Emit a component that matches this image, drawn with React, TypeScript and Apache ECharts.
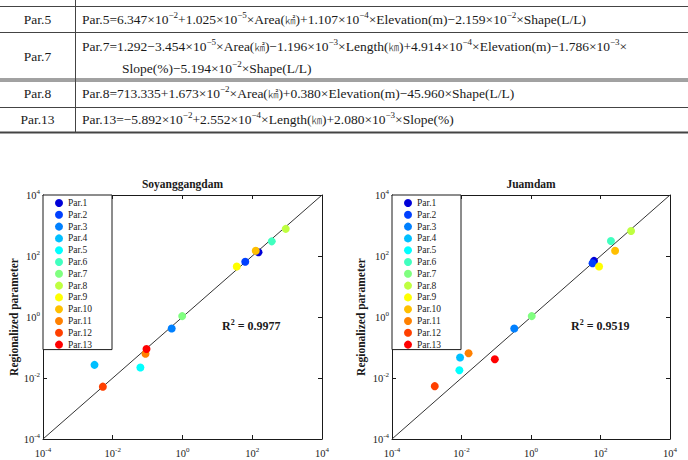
import { useEffect, useRef } from 'react';
import * as echarts from 'echarts';

// Parameter names and their jet-style colours
const params = ['Par.1', 'Par.2', 'Par.3', 'Par.4', 'Par.5', 'Par.6', 'Par.7', 'Par.8', 'Par.9', 'Par.10', 'Par.11', 'Par.12', 'Par.13'];
const parColors = ['#0000d8', '#0040ff', '#0080ff', '#00bfff', '#00ffff', '#40ffbf', '#80ff80', '#bfff40', '#ffff00', '#ffbf00', '#ff8000', '#ff4000', '#ff0000'];

// Soyanggang dam: calibrated (x) vs regionalized (y) parameter values
const soyangCalibrated = [151, 63, 0.49, 0.003, 0.062, 363, 0.98, 912, 36, 126, 0.087, 0.0052, 0.093];
const soyangRegional = [132, 65, 0.42, 0.027, 0.022, 302, 1.07, 776, 45, 148, 0.062, 0.0052, 0.089];

// Juam dam: calibrated (x) vs regionalized (y) parameter values
const juamCalibrated = [65, 59, 0.33, 0.0091, 0.0087, 200, 1.05, 759, 91, 263, 0.016, 0.0017, 0.091];
const juamRegional = [69, 58, 0.42, 0.047, 0.018, 309, 1.07, 661, 45, 148, 0.065, 0.0054, 0.041];

const damNames = ['Soyanggangdam', 'Juamdam'];
const rSquared = ['0.9977', '0.9519'];
const axisMin = 1e-4;
const axisMax = 1e4;

// Regression equations (^{..} marks a superscript)
const tableLabels = ['Par.5', 'Par.7', 'Par.8', 'Par.13'];
const tableFormulas: string[][] = [
  ['Par.5=6.347×10^{−2}+1.025×10^{−5}×Area(㎢)+1.107×10^{−4}×Elevation(m)−2.159×10^{−2}×Shape(L/L)'],
  [
    'Par.7=1.292−3.454×10^{−5}×Area(㎢)−1.196×10^{−3}×Length(㎞)+4.914×10^{−4}×Elevation(m)−1.786×10^{−3}×',
    'Slope(%)−5.194×10^{−2}×Shape(L/L)',
  ],
  ['Par.8=713.335+1.673×10^{−2}×Area(㎢)+0.380×Elevation(m)−45.960×Shape(L/L)'],
  ['Par.13=−5.892×10^{−2}+2.552×10^{−4}×Length(㎞)+2.080×10^{−3}×Slope(%)'],
];

const SERIF = '"Liberation Serif", "Times New Roman", serif';
const TABLE_FONT = '"Liberation Serif", "Noto Sans CJK KR", serif';
const CJK_FONT = '"Noto Sans CJK KR", sans-serif';
const INK = '#1a1a1a';

// superscripts and unit glyphs become rich-text tokens
const toRich = (s: string) =>
  s.replace(/\^\{([^}]*)\}/g, '{s|$1}').replace(/([㎢㎞])/g, '{k|$1}');

export default function App() {
  const ref = useRef<HTMLDivElement>(null);

  useEffect(() => {
    if (!ref.current) return;
    const chart = echarts.init(ref.current, undefined, { renderer: 'svg' });

    const grids = [
      { left: 43, top: 195, width: 279, height: 244 },
      { left: 392, top: 195, width: 278, height: 244 },
    ];

    const logAxisBase = {
      type: 'log' as const,
      logBase: 10,
      min: axisMin,
      max: axisMax,
      interval: 2,
      axisLine: { show: true, onZero: false, lineStyle: { color: INK, width: 1 } },
      axisTick: { show: true, inside: true, length: 4, lineStyle: { color: INK, width: 1 } },
      splitLine: { show: false },
      minorTick: { show: false },
    };

    const tickRich = {
      b: { fontSize: 10.5, fontFamily: SERIF, color: INK },
      s: { fontSize: 7, fontFamily: SERIF, color: INK, verticalAlign: 'top', padding: [0, 0, 7, 0] },
    };
    const tickFormatter = (v: number) => `{b|10}{s|${Math.round(Math.log10(v))}}`;

    const xAxis: any[] = [];
    const yAxis: any[] = [];
    grids.forEach((_, g) => {
      xAxis.push({
        ...logAxisBase,
        gridIndex: g,
        position: 'bottom',
        axisLabel: { show: true, margin: 7, formatter: tickFormatter, rich: tickRich },
      });
      xAxis.push({ ...logAxisBase, gridIndex: g, position: 'top', axisLabel: { show: false } });
      yAxis.push({
        ...logAxisBase,
        gridIndex: g,
        position: 'left',
        name: 'Regionalized parameter',
        nameLocation: 'middle',
        nameRotate: 90,
        nameGap: g === 0 ? 21 : 25,
        nameTextStyle: { fontFamily: SERIF, fontSize: 11.5, fontWeight: 'bold', color: INK },
        axisLabel: { show: true, margin: 3, formatter: tickFormatter, rich: tickRich },
      });
      yAxis.push({ ...logAxisBase, gridIndex: g, position: 'right', axisLabel: { show: false } });
    });

    const datasets = [
      { x: soyangCalibrated, y: soyangRegional },
      { x: juamCalibrated, y: juamRegional },
    ];

    const series: any[] = [];
    datasets.forEach((d, g) => {
      series.push({
        type: 'line',
        name: '1:1',
        xAxisIndex: g * 2,
        yAxisIndex: g * 2,
        data: [
          [axisMin, axisMin],
          [axisMax, axisMax],
        ],
        symbol: 'none',
        silent: true,
        lineStyle: { color: '#333', width: 1 },
        z: 2,
      });
      params.forEach((p, i) => {
        series.push({
          type: 'scatter',
          name: p,
          xAxisIndex: g * 2,
          yAxisIndex: g * 2,
          data: [[d.x[i], d.y[i]]],
          symbolSize: 8,
          itemStyle: { color: parColors[i], opacity: 1 },
          z: 3,
        });
      });
    });

    const legendBase = {
      orient: 'vertical' as const,
      top: 195,
      padding: [3, 20, 0, 12],
      itemGap: 1.8,
      itemWidth: 8,
      itemHeight: 8,
      icon: 'circle',
      backgroundColor: '#fff',
      borderColor: INK,
      borderWidth: 1,
      borderRadius: 0,
      textStyle: { fontFamily: SERIF, fontSize: 9.5, color: INK },
      data: params,
    };

    // Table of regression equations
    const tableGraphics: any[] = [];
    const hLine = (y: number, w = 1) =>
      tableGraphics.push({
        type: 'line',
        shape: { x1: 0, y1: y, x2: 688, y2: y },
        style: { stroke: '#444', lineWidth: w },
        silent: true,
      });
    hLine(6.5);
    hLine(32.5);
    hLine(79, 1);
    hLine(81, 1);
    hLine(107.5);
    hLine(132.5, 2);
    tableGraphics.push({
      type: 'line',
      shape: { x1: 75.5, y1: 0, x2: 75.5, y2: 133 },
      style: { stroke: '#444', lineWidth: 1 },
      silent: true,
    });
    const rowCenters = [19.5, 56, 93.8, 119.8];
    const tableRich = {
      s: { fontSize: 9, fontFamily: TABLE_FONT, fill: INK, color: INK, verticalAlign: 'top', padding: [0, 0, 9, 0] },
      k: { fontSize: 10.5, fontFamily: CJK_FONT, fontWeight: 300, fill: INK, color: INK },
    };
    tableLabels.forEach((label, r) => {
      tableGraphics.push({
        type: 'text',
        x: 37.5,
        y: rowCenters[r],
        style: {
          text: label,
          fontFamily: TABLE_FONT,
          fontSize: 13.5,
          fill: INK,
          align: 'center',
          verticalAlign: 'middle',
        },
      });
      const lines = tableFormulas[r];
      lines.forEach((ln, k) => {
        const y = lines.length === 1 ? rowCenters[r] : rowCenters[r] + (k === 0 ? -9.5 : 12);
        tableGraphics.push({
          type: 'text',
          x: k === 0 ? 82 : 122,
          y,
          style: {
            text: toRich(ln),
            fontFamily: TABLE_FONT,
            fontSize: 13.5,
            fill: INK,
            align: 'left',
            verticalAlign: 'middle',
            rich: tableRich,
          },
        });
      });
    });

    // R² annotations
    const r2Pos = [
      [222, 326],
      [571, 326],
    ];
    const r2Graphics = rSquared.map((r, g) => ({
      type: 'text',
      x: r2Pos[g][0],
      y: r2Pos[g][1],
      style: {
        text: `R{s|2} = ${r}`,
        fontFamily: SERIF,
        fontSize: 12,
        fontWeight: 'bold',
        fill: INK,
        align: 'left',
        verticalAlign: 'middle',
        rich: {
          s: { fontSize: 8, fontFamily: SERIF, fontWeight: 'bold', fill: INK, verticalAlign: 'top', padding: [0, 0, 8, 0] },
        },
      },
    }));

    chart.setOption({
      animation: false,
      backgroundColor: '#fff',
      title: damNames.map((name, g) => ({
        text: name,
        left: grids[g].left + grids[g].width / 2,
        top: 178,
        textAlign: 'center',
        padding: 0,
        textStyle: { fontFamily: SERIF, fontSize: 11.5, fontWeight: 'bold', color: INK },
      })),
      legend: [
        { ...legendBase, left: 43 },
        { ...legendBase, left: 392 },
      ],
      grid: grids,
      xAxis,
      yAxis,
      series,
      graphic: [...tableGraphics, ...r2Graphics],
    });

    return () => chart.dispose();
  }, []);

  return (
    <div
      ref={ref}
      style={{ position: 'absolute', left: 0, top: 0, width: 688, height: 460, background: '#fff' }}
    />
  );
}
